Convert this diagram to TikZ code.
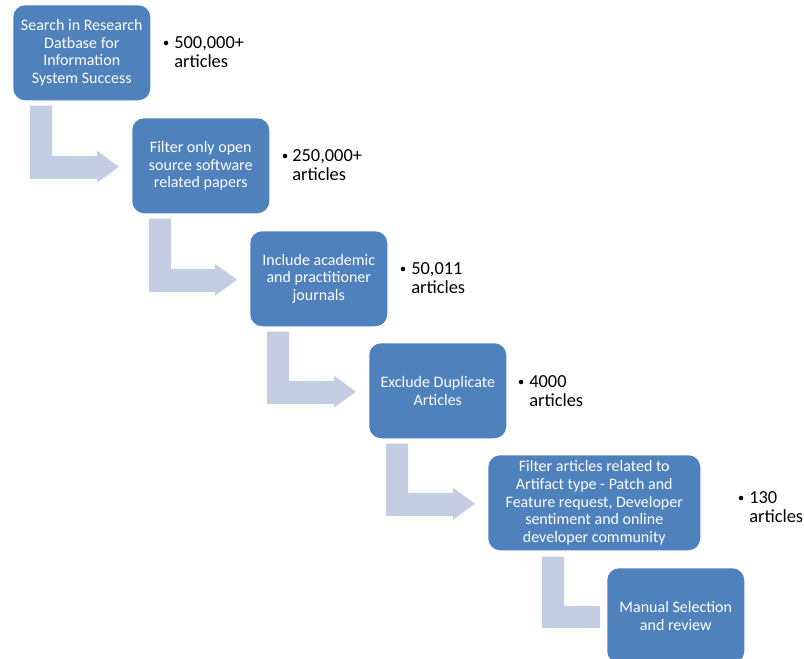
\documentclass[tikz,border=0pt]{standalone}
\usepackage{fontspec}
\setmainfont{Carlito}
\usetikzlibrary{calc}
\pgfdeclarelayer{background}
\pgfsetlayers{background,main}
\definecolor{boxblue}{HTML}{4F81BD}
\definecolor{arrowgray}{HTML}{C4CEE3}
\tikzset{
  stepbox/.style={fill=boxblue, draw=none, rounded corners=9pt, text=white,
    minimum width=102.75pt, minimum height=71.25pt, align=center,
    font=\fontsize{12}{13.2}\selectfont, inner sep=1pt},
  widebox/.style={stepbox, minimum width=159pt},
  countnote/.style={anchor=west, align=left, inner sep=0pt,
    font=\fontsize{13.8}{14.25}\selectfont},
  bulletdot/.style={circle, fill=black, inner sep=0pt, minimum size=3.4pt},
  arrowfill/.style={fill=arrowgray, draw=none}
}
\newcommand\bentarr[2]{%
  \fill[arrowfill] let \p1=($(#1.south west)+(17,5)$), \p2=($(#2.west)+(-13,1)$) in
    (\x1,\y1) -- (\x1+16.5pt,\y1) -- (\x1+16.5pt,\y2+8.25pt) -- (\x2-16.5pt,\y2+8.25pt)
    -- (\x2-16.5pt,\y2+12pt) -- (\x2,\y2) -- (\x2-16.5pt,\y2-12pt) -- (\x2-16.5pt,\y2-9pt)
    -- (\x1,\y2-9pt) -- cycle;}
\begin{document}
\begin{tikzpicture}[x=0.75pt,y=-0.75pt]
\useasboundingbox (0,0) rectangle (804,659);
\node[stepbox, anchor=north west] (b1) at (13,5) {Search in Research\\Datbase for\\Information\\System Success};
\node[stepbox, anchor=north west] (b2) at (132,118) {Filter only open\\source software\\related papers};
\node[stepbox, anchor=north west] (b3) at (250,231) {Include academic\\and practitioner\\journals};
\node[stepbox, anchor=north west] (b4) at (369,343) {Exclude Duplicate\\Articles};
\node[widebox, anchor=north west] (b5) at (488,455) {Filter articles related to\\Artifact type - Patch and\\Feature request, Developer\\sentiment and online\\developer community};
\node[stepbox, anchor=north west] (b6) at (607,568) {Manual Selection\\and review};
\begin{pgfonlayer}{background}
\bentarr{b1}{b2}
\bentarr{b2}{b3}
\bentarr{b3}{b4}
\bentarr{b4}{b5}
\coordinate (e5) at ($(b5.south west)+(54,6)$);
\fill[arrowfill] let \p1=(e5), \p2=($(b6.west)+(-7,0)$) in
  (\x1,\y1) -- (\x1+16.5pt,\y1) -- (\x1+16.5pt,\y2+7.5pt) -- (\x2,\y2+7.5pt)
  -- (\x2,\y2-9pt) -- (\x1,\y2-9pt) -- cycle;
\end{pgfonlayer}
% counts
\node[bulletdot] (d1) at (166,43) {};
\node[countnote] (c1) at (174,52.5) {500,000+\\articles};
\node[bulletdot] (d2) at (285,156) {};
\node[countnote] (c2) at (292,165.5) {250,000+\\articles};
\node[bulletdot] (d3) at (403,269) {};
\node[countnote] (c3) at (411,278.5) {50,011\\articles};
\node[bulletdot] (d4) at (521,382) {};
\node[countnote] (c4) at (529,391.5) {4000\\articles};
\node[bulletdot] (d5) at (741,498) {};
\node[countnote] (c5) at (749,507.5) {130\\articles};
\end{tikzpicture}
\end{document}
